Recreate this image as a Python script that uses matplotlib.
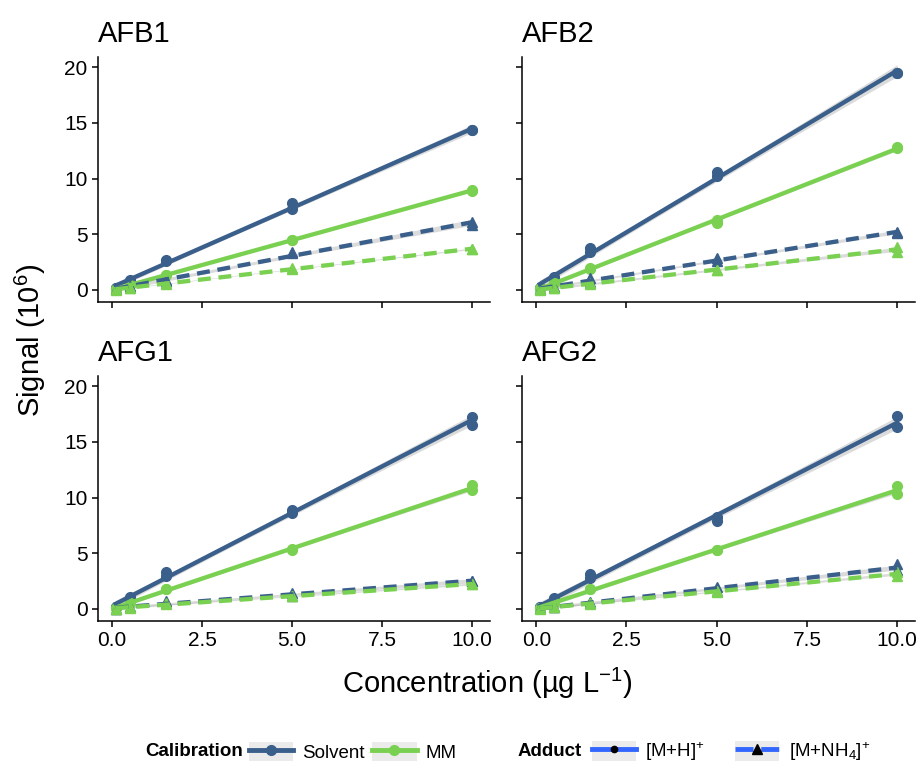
import matplotlib
matplotlib.use("Agg")
import matplotlib.pyplot as plt
from matplotlib.lines import Line2D
from matplotlib.patches import Patch
import numpy as np

plt.rcParams['font.family'] = ['Liberation Sans', 'DejaVu Sans']
plt.rcParams['mathtext.fontset'] = 'custom'
plt.rcParams['mathtext.rm'] = 'Liberation Sans'
plt.rcParams['mathtext.it'] = 'Liberation Sans:italic'
plt.rcParams['mathtext.bf'] = 'Liberation Sans:bold'

# concentration (ug/L), two replicates per level
conc = [0.1, 0.1, 0.5, 0.5, 1.5, 1.5, 5, 5, 10, 10]

afb1_solv_mh = [0.18, 0.20, 0.85, 0.90, 2.70, 2.60, 7.80, 7.30, 14.40, 14.35]
afb1_mm_mh = [0.10, 0.12, 0.45, 0.48, 1.35, 1.30, 4.50, 4.45, 9.00, 8.90]
afb1_solv_nh4 = [0.05, 0.07, 0.30, 0.32, 0.90, 0.85, 3.40, 3.30, 6.10, 5.80]
afb1_mm_nh4 = [0.04, 0.05, 0.20, 0.22, 0.60, 0.55, 1.95, 1.90, 3.70, 3.65]

afb2_solv_mh = [0.20, 0.22, 1.20, 1.10, 3.75, 3.40, 10.60, 10.20, 19.50, 19.45]
afb2_mm_mh = [0.12, 0.14, 0.60, 0.62, 1.95, 1.90, 6.30, 6.00, 12.80, 12.75]
afb2_solv_nh4 = [0.06, 0.08, 0.30, 0.28, 1.05, 0.75, 2.85, 2.60, 5.20, 5.15]
afb2_mm_nh4 = [0.04, 0.05, 0.20, 0.22, 0.60, 0.55, 1.80, 1.75, 3.90, 3.45]

afg1_solv_mh = [0.20, 0.22, 1.05, 1.00, 3.30, 3.00, 8.90, 8.60, 17.25, 16.50]
afg1_mm_mh = [0.10, 0.12, 0.55, 0.52, 1.80, 1.75, 5.30, 5.35, 11.15, 10.65]
afg1_solv_nh4 = [0.03, 0.04, 0.15, 0.17, 0.75, 0.50, 1.40, 1.20, 2.55, 2.50]
afg1_mm_nh4 = [0.03, 0.03, 0.12, 0.14, 0.50, 0.45, 1.20, 1.15, 2.25, 2.20]

afg2_solv_mh = [0.20, 0.22, 0.95, 0.90, 3.10, 2.80, 8.25, 7.90, 17.35, 16.35]
afg2_mm_mh = [0.10, 0.12, 0.55, 0.52, 1.80, 1.75, 5.30, 5.30, 11.00, 10.35]
afg2_solv_nh4 = [0.05, 0.06, 0.20, 0.22, 0.60, 0.55, 1.95, 1.65, 4.00, 3.50]
afg2_mm_nh4 = [0.04, 0.05, 0.17, 0.20, 0.50, 0.45, 1.65, 1.55, 3.30, 3.00]

panels = ['AFB1', 'AFB2', 'AFG1', 'AFG2']
panel_data = {
    'AFB1': [afb1_solv_mh, afb1_mm_mh, afb1_solv_nh4, afb1_mm_nh4],
    'AFB2': [afb2_solv_mh, afb2_mm_mh, afb2_solv_nh4, afb2_mm_nh4],
    'AFG1': [afg1_solv_mh, afg1_mm_mh, afg1_solv_nh4, afg1_mm_nh4],
    'AFG2': [afg2_solv_mh, afg2_mm_mh, afg2_solv_nh4, afg2_mm_nh4],
}

blue = '#3A5F8B'
green = '#7AD151'
series_style = [(blue, 'o', '-'), (green, 'o', '-'), (blue, '^', '--'), (green, '^', '--')]

W, H = 923, 772
fig = plt.figure(figsize=(W / 100, H / 100), dpi=100)

boxes = {
    'AFB1': (98, 57, 490, 302),
    'AFB2': (522, 57, 915, 302),
    'AFG1': (98, 376, 490, 621),
    'AFG2': (522, 376, 915, 621),
}


def fit_band(x, y, xs):
    x = np.asarray(x, float)
    y = np.asarray(y, float)
    b, a = np.polyfit(x, y, 1)
    resid = y - (a + b * x)
    n = len(x)
    s = np.sqrt(np.sum(resid ** 2) / (n - 2))
    se = s * np.sqrt(1 / n + (xs - x.mean()) ** 2 / np.sum((x - x.mean()) ** 2))
    yhat = a + b * xs
    return yhat, yhat - 2.306 * se, yhat + 2.306 * se


xs = np.linspace(min(conc), max(conc), 100)

for i, name in enumerate(panels):
    l, t, r, b = boxes[name]
    ax = fig.add_axes([l / W, 1 - b / H, (r - l) / W, (b - t) / H])
    for ys, (col, mk, ls) in zip(panel_data[name], series_style):
        yhat, lo, hi = fit_band(conc, ys, xs)
        ax.fill_between(xs, lo, hi, color='#999999', alpha=0.35, lw=0, zorder=1)
        ax.plot(conc, ys, ls='none', marker=mk, ms=7, color=col, zorder=3)
        line, = ax.plot(xs, yhat, color=col, lw=3.1, zorder=4)
        if ls == '--':
            line.set_dashes((3, 1.8))
    ax.set_xlim(-0.395, 10.495)
    ax.set_ylim(-1.08, 20.92)
    ax.set_xticks([0, 2.5, 5, 7.5, 10])
    ax.set_yticks([0, 5, 10, 15, 20])
    ax.set_xticklabels(['0.0', '2.5', '5.0', '7.5', '10.0'] if i >= 2 else [])
    ax.set_yticklabels(['0', '5', '10', '15', '20'] if i % 2 == 0 else [])
    for s in ['top', 'right']:
        ax.spines[s].set_visible(False)
    for s in ['left', 'bottom']:
        ax.spines[s].set_linewidth(1.1)
    ax.tick_params(length=4.5, width=1.1, labelsize=15, colors='black', pad=3)
    ax.text(0, 1.035, name, transform=ax.transAxes, fontsize=21, ha='left', va='bottom')

fig.text(30 / W, 1 - 340 / H, 'Signal (10$^{6}$)', rotation=90, fontsize=21,
         ha='center', va='center')
fig.text(487 / W, 1 - 683 / H, 'Concentration (µg L$^{\u2212 1}$)', fontsize=21,
         ha='center', va='center')

key_bg = Patch(facecolor='#EBEBEB', edgecolor='none')
cal_handles = [(key_bg, Line2D([], [], color=blue, lw=3.5, marker='o', ms=7)),
               (key_bg, Line2D([], [], color=green, lw=3.5, marker='o', ms=7))]
add_handles = [(key_bg, Line2D([], [], color='#3366FF', lw=3.5, marker='o', ms=4.5, mfc='black', mec='black')),
               (key_bg, Line2D([], [], color='#3366FF', lw=3.5, ls='--', marker='^', ms=7, mfc='black', mec='black'))]

fs = 13.5
fig.text(145 / W, 1 - 752 / H, 'Calibration', fontsize=fs, fontweight='bold', ha='left', va='center')
fig.legend(cal_handles, ['Solvent', 'MM'], loc='center left', bbox_to_anchor=(249 / W, 1 - 752 / H),
           ncol=2, frameon=False, fontsize=fs, handlelength=2.35, handleheight=1.2,
           columnspacing=0.4, handletextpad=0.5, borderaxespad=0, borderpad=0)

fig.text(518 / W, 1 - 752 / H, 'Adduct', fontsize=fs, fontweight='bold', ha='left', va='center')
fig.legend(add_handles, ['[M+H]$^{+}$', '[M+NH$_{4}$]$^{+}$'], loc='center left',
           bbox_to_anchor=(592 / W, 1 - 752 / H), ncol=2, frameon=False, fontsize=fs,
           handlelength=2.35, handleheight=1.2, columnspacing=1.6, handletextpad=0.5,
           borderaxespad=0, borderpad=0)

fig.savefig('out.png', dpi=100)
